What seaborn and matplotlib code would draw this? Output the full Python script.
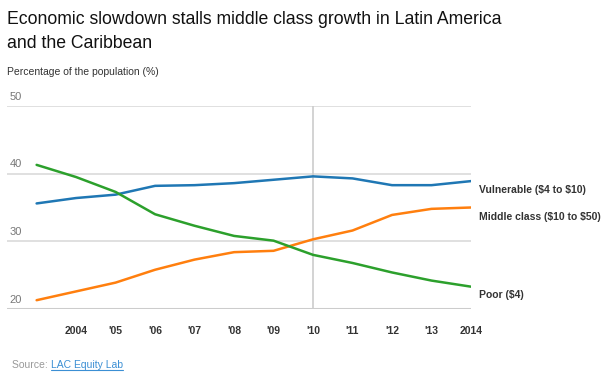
import numpy as np
import pandas as pd
import matplotlib
matplotlib.use("Agg")
import matplotlib.pyplot as plt
import matplotlib.transforms as mtransforms
import seaborn as sns

# ── Data ──
years = [2003, 2004, 2005, 2006, 2007, 2008, 2009, 2010, 2011, 2012, 2013, 2014]
vulnerable = [35.6, 36.4, 36.9, 38.2, 38.3, 38.6, 39.1, 39.6, 39.3, 38.3, 38.3, 38.9]
middle_class = [21.3, 22.6, 23.9, 25.8, 27.3, 28.4, 28.6, 30.3, 31.6, 33.9, 34.8, 35.0]
poor = [41.3, 39.5, 37.3, 34.0, 32.3, 30.8, 30.1, 28.0, 26.8, 25.4, 24.2, 23.3]

series_names = ["Vulnerable (\\$4 to \\$10)", "Middle class (\\$10 to \\$50)", "Poor (\\$4)"]
series_colors = ["#1f77b4", "#ff7f0e", "#2ca02c"]
label_y = [37.6, 33.6, 22.0]
tick_years = [2004, 2005, 2006, 2007, 2008, 2009, 2010, 2011, 2012, 2013, 2014]
tick_labels = ["2004", "'05", "'06", "'07", "'08", "'09", "'10", "'11", "'12", "'13", "2014"]
y_ticks = [20, 30, 40, 50]

df = pd.DataFrame({
    "year": years * 3,
    "share": vulnerable + middle_class + poor,
    "group": [n for n in series_names for _ in years],
})

sns.set_style("white")
plt.rcParams["font.family"] = ["Liberation Sans", "DejaVu Sans"]

fig = plt.figure(figsize=(6.02, 3.73), dpi=100)
ax = fig.add_axes([7 / 602, 1 - 309 / 373, (471 - 7) / 602, (309 - 106) / 373])

# grid + highlight line
for v in y_ticks[1:]:
    ax.axhline(v, color="#dddddd", lw=1.3, zorder=0)
ax.axhline(20, color="#cccccc", lw=2.2, zorder=0)
ax.axvline(2010, color="#cccccc", lw=1.2, zorder=0)

sns.lineplot(data=df, x="year", y="share", hue="group", hue_order=series_names,
             palette=series_colors, lw=1.8, legend=False, ax=ax, zorder=3)

ax.set_xlim(2002.25, 2014)
ax.set_ylim(20, 50)
for s in ax.spines.values():
    s.set_visible(False)
ax.set_xlabel("")
ax.set_ylabel("")
ax.set_yticks([])
ax.set_xticks(tick_years)
ax.set_xticklabels(tick_labels, fontsize=7.5, fontweight="bold", color="#333333")
ax.tick_params(axis="x", length=0, pad=12)

# y labels sit above their gridlines
trans = mtransforms.blended_transform_factory(ax.transAxes, ax.transData)
for v in y_ticks:
    ax.annotate(str(v), xy=(0.005, v), xycoords=trans, xytext=(0, 3),
                textcoords="offset points", fontsize=8, color="#777777",
                ha="left", va="bottom")

# end labels
for name, ly in zip(series_names, label_y):
    ax.annotate(name, xy=(1.0, ly), xycoords=trans, xytext=(6, 0),
                textcoords="offset points", fontsize=7.5, fontweight="bold",
                color="#333333", ha="left", va="center", annotation_clip=False)

fig.text(7 / 602, 1 - 19 / 373, "Economic slowdown stalls middle class growth in Latin America",
         fontsize=12.7, color="#111111", ha="left", va="center")
fig.text(7 / 602, 1 - 43 / 373, "and the Caribbean",
         fontsize=12.7, color="#111111", ha="left", va="center")
fig.text(7 / 602, 1 - 72 / 373, "Percentage of the population (%)",
         fontsize=7.5, color="#333333", ha="left", va="center")
fig.text(12 / 602, 1 - 365 / 373, "Source: ", fontsize=7.5, color="#999999",
         ha="left", va="center")
fig.text(51 / 602, 1 - 365 / 373, "LAC Equity Lab", fontsize=7.5, color="#3b8fd4",
         ha="left", va="center")
fig.add_artist(plt.Line2D([51 / 602, 123 / 602], [1 - 370 / 373, 1 - 370 / 373],
                          color="#3b8fd4", lw=0.8))

fig.savefig("out.png", dpi=100)
